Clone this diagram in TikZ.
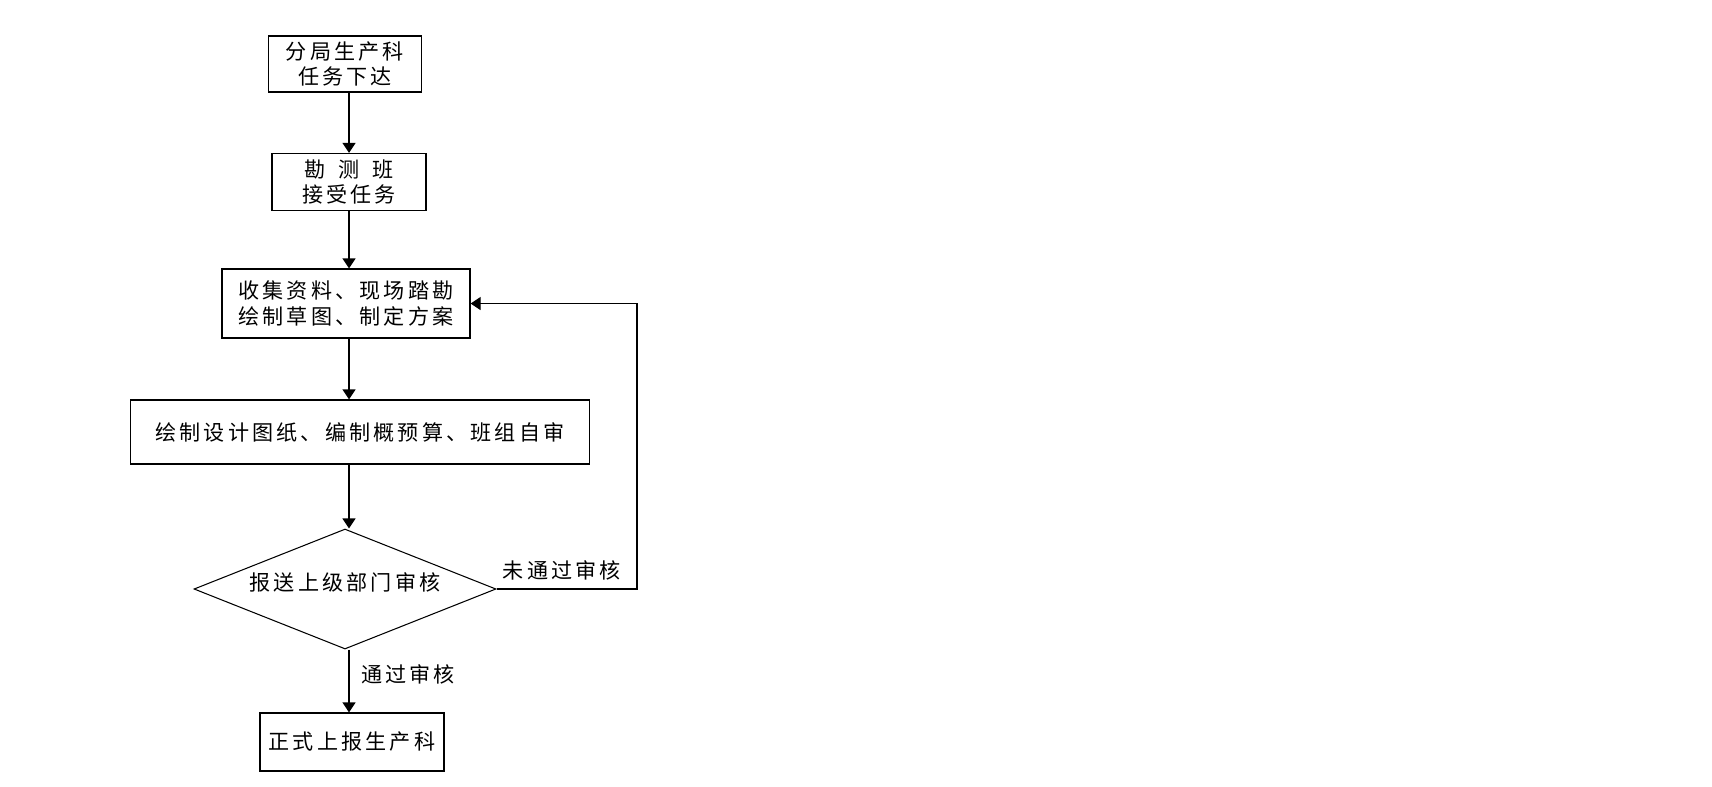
\documentclass[tikz,border=0pt]{standalone}
\usepackage{fontspec}
\usetikzlibrary{shapes.geometric,arrows.meta}
\newfontfamily\cjk[LetterSpace=15]{Noto Sans CJK SC}

\begin{document}
\begin{tikzpicture}[
        proc/.style={draw, line width=0.7pt, align=center, inner sep=0pt},
        decision/.style={draw, diamond, aspect=2.5, line width=0.6pt, inner sep=0pt, minimum width=6.04cm, minimum height=2.40cm},
        flow/.style={line width=0.7pt, -{Triangle[width=0.26cm, length=0.2cm]}},
        every node/.style={font=\cjk\fontsize{12pt}{14.6pt}\selectfont}
    ]
        \useasboundingbox (0,0) rectangle (34.24,-15.72);
        \coordinate (axis) at (6.98,0);
        \coordinate (back) at (12.74,0);
        \node[proc, minimum width=3.06cm, minimum height=1.12cm] (task) at (6.90,-1.28) {分局生产科\\任务下达};
        \node[proc, minimum width=3.08cm, minimum height=1.14cm] (team) at (6.98,-3.64) {勘\hspace{0.62em}测\hspace{0.62em}班\\接受任务};
        \node[proc, minimum width=4.96cm, minimum height=1.38cm] (survey) at (6.92,-6.07) {收集资料、现场踏勘\\绘制草图、制定方案};
        \node[proc, minimum width=9.18cm, minimum height=1.28cm] (design) at (7.20,-8.64) {绘制设计图纸、编制概预算、班组自审};
        \node[decision] (review) at (6.90,-11.78) {\raisebox{0.3cm}{报送上级部门审核}};
        \node[proc, minimum width=3.68cm, minimum height=1.16cm] (report) at (7.04,-14.84) {正式上报生产科};
        % main line
        \draw[flow] (task.south -| axis) -- (team.north -| axis);
        \draw[flow] (team.south -| axis) -- (survey.north -| axis);
        \draw[flow] (survey.south -| axis) -- (design.north -| axis);
        \draw[flow] (design.south -| axis) -- (review.north -| axis);
        \draw[flow] (review.south -| axis) -- (report.north -| axis);
        % loop back
        \draw[flow] (review.east) -- (review.east -| back) -- (survey.east -| back) -- (survey.east);
        \node (fail) at (11.24,-11.40) {未通过审核};
        \node (pass) at (8.16,-13.48) {通过审核};
    \end{tikzpicture}
\end{document}
